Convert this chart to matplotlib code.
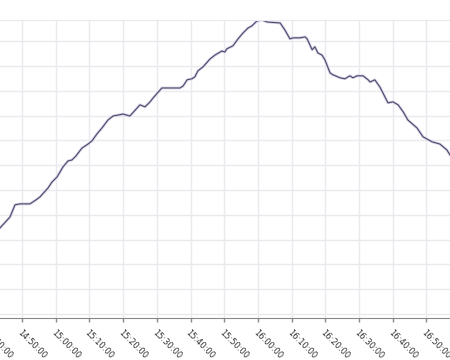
import pandas as pd
import matplotlib
matplotlib.use('Agg')
import matplotlib.pyplot as plt
import matplotlib.dates as mdates

# ---- data ----
times = ["14:43:28", "14:46:26", "14:47:55", "14:49:24", "14:52:22", "14:54:09",
         "14:55:20", "14:57:43", "14:58:54", "15:00:23", "15:02:10", "15:03:39",
         "15:04:50", "15:06:00", "15:07:48", "15:09:35", "15:10:46", "15:12:15",
         "15:13:44", "15:15:31", "15:17:00", "15:20:00", "15:22:00", "15:25:00",
         "15:26:30", "15:28:00", "15:28:54", "15:31:30", "15:36:54", "15:37:48",
         "15:39:00", "15:40:24", "15:41:18", "15:42:12", "15:43:42", "15:45:48",
         "15:47:18", "15:49:18", "15:50:12", "15:50:48", "15:52:36", "15:54:06",
         "15:55:36", "15:57:06", "15:58:12", "15:59:42", "16:01:12", "16:02:42",
         "16:06:36", "16:08:00", "16:09:30", "16:10:24", "16:12:30", "16:14:00",
         "16:14:36", "16:16:06", "16:16:54", "16:17:48", "16:19:00", "16:19:54",
         "16:21:24", "16:22:18", "16:24:24", "16:25:48", "16:27:18", "16:28:12",
         "16:29:24", "16:31:12", "16:32:42", "16:33:18", "16:34:42", "16:36:12",
         "16:37:42", "16:38:36", "16:40:06", "16:41:36", "16:43:06", "16:44:30",
         "16:47:12", "16:49:00", "16:51:42", "16:54:00", "16:56:06", "16:57:00"]
values = [3.47, 3.91, 4.40, 4.44, 4.44, 4.60,
          4.72, 5.08, 5.32, 5.52, 5.93, 6.17,
          6.21, 6.37, 6.69, 6.85, 6.98, 7.26,
          7.50, 7.82, 7.98, 8.06, 7.98, 8.43,
          8.35, 8.55, 8.71, 9.11, 9.11, 9.19,
          9.44, 9.48, 9.56, 9.80, 9.96, 10.28,
          10.44, 10.60, 10.56, 10.69, 10.81, 11.09,
          11.33, 11.53, 11.61, 11.81, 11.85, 11.77,
          11.73, 11.45, 11.09, 11.13, 11.13, 11.17,
          11.09, 10.65, 10.77, 10.52, 10.44, 10.24,
          9.72, 9.64, 9.52, 9.48, 9.60, 9.52,
          9.60, 9.60, 9.44, 9.35, 9.44, 9.15,
          8.75, 8.51, 8.55, 8.43, 8.15, 7.82,
          7.50, 7.14, 6.94, 6.85, 6.61, 6.41]

t = pd.to_datetime(["2015-01-01 " + s for s in times])

fig = plt.figure(figsize=(4.5, 3.6), dpi=100)
ax = fig.add_axes([-60 / 450, 42 / 360, 510 / 450, 298 / 360])

# soft halo + dark line
ax.plot(t, values, color='#d6d3e6', linewidth=2.0, solid_joinstyle='round')
ax.plot(t, values, color='#4a486a', linewidth=0.8)

ax.set_xlim(pd.Timestamp("2015-01-01 14:25:40"), pd.Timestamp("2015-01-01 16:57:00"))
ax.set_ylim(-0.16, 11.85)
ax.set_yticks(range(0, 12))
ax.set_yticklabels([])
ax.tick_params(axis='y', length=0)

ax.xaxis.set_major_locator(mdates.MinuteLocator(byminute=range(0, 60, 10)))
ax.xaxis.set_major_formatter(mdates.DateFormatter('%H:%M:%S'))
ax.tick_params(axis='x', length=3, color='#888888', width=1, pad=4,
               labelsize=6, labelcolor='#333333')
for lab in ax.get_xticklabels():
    lab.set_rotation(-45)
    lab.set_ha('left')
    lab.set_va('top')
    lab.set_rotation_mode('anchor')

ax.grid(True, color='#ebe8ee', linewidth=1)
ax.set_axisbelow(True)
for side in ['left', 'right']:
    ax.spines[side].set_visible(False)
ax.spines['top'].set_color('#ebe8ee')
ax.spines['bottom'].set_color('#888888')

fig.savefig('out.png', dpi=100)
